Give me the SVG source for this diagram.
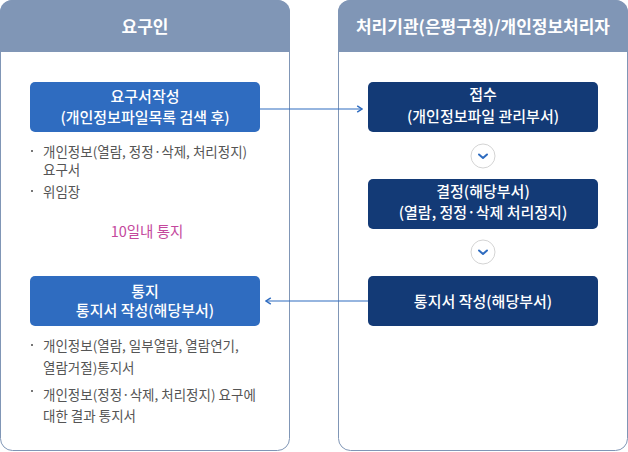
<svg xmlns="http://www.w3.org/2000/svg" width="628" height="452" viewBox="0 0 628 452">
<style>
text{font-family:"Noto Sans CJK KR","Noto Sans",sans-serif}
.panel{fill:#fff;stroke:#8096b6;stroke-width:1}
.head{fill:#8096b6}
.ht{fill:#fff;font-size:17px;font-weight:700;text-anchor:middle}
.bl{fill:#2f6cc0}
.dk{fill:#133a76}
.bt{fill:#fff;font-size:15px;font-weight:500;text-anchor:middle}
.li{fill:#555;font-size:13.5px}
.dot{fill:#777}
.con{stroke:#2f6cc0;stroke-width:1.2;fill:none}
.circ{fill:#fff;stroke:#d4d4d4;stroke-width:1}
.chev{stroke:#2f6cc0;stroke-width:2;fill:none;stroke-linecap:round;stroke-linejoin:round}
</style>
<defs>
<marker id="ah" viewBox="0 0 10 10" refX="9" refY="5" markerWidth="8" markerHeight="8" markerUnits="userSpaceOnUse" orient="auto-start-reverse">
<path d="M3,1 L9,5 L3,9" fill="none" stroke="#2f6cc0" stroke-width="1.8"/>
</marker>
</defs>
<g id="panel-left">
<rect class="panel" x="0.5" y="0.5" width="289" height="450" rx="12"/>
<path class="head" d="M0,52 V12 A12,12 0 0 1 12,0 H278 A12,12 0 0 1 290,12 V52 Z"/>
<text class="ht" x="145" y="33">요구인</text>
</g>
<g id="panel-right">
<rect class="panel" x="338.5" y="0.5" width="289" height="450" rx="12"/>
<path class="head" d="M338,52 V12 A12,12 0 0 1 350,0 H616 A12,12 0 0 1 628,12 V52 Z"/>
<text class="ht" x="483" y="33">처리기관(은평구청)/개인정보처리자</text>
</g>
<g id="node-request">
<rect class="bl" x="30" y="82" width="230" height="50" rx="5"/>
<text class="bt" x="145" y="102">요구서작성</text>
<text class="bt" x="145" y="123">(개인정보파일목록 검색 후)</text>
</g>
<g id="list-request">
<rect class="dot" x="31" y="150" width="2" height="2"/>
<text class="li" x="43" y="157">개인정보(열람, 정정·삭제, 처리정지)</text>
<text class="li" x="43" y="175">요구서</text>
<rect class="dot" x="31" y="190" width="2" height="2"/>
<text class="li" x="43" y="197">위임장</text>
</g>
<text id="label-10days" x="147" y="237" fill="#c4489d" font-size="14.5" text-anchor="middle">10일내 통지</text>
<g id="node-notify">
<rect class="bl" x="30" y="276" width="230" height="50" rx="5"/>
<text class="bt" x="145" y="297">통지</text>
<text class="bt" x="145" y="316">통지서 작성(해당부서)</text>
</g>
<g id="list-notify">
<rect class="dot" x="31" y="344" width="2" height="2"/>
<text class="li" x="43" y="351">개인정보(열람, 일부열람, 열람연기,</text>
<text class="li" x="43" y="373">열람거절)통지서</text>
<rect class="dot" x="31" y="390" width="2" height="2"/>
<text class="li" x="43" y="400">개인정보(정정·삭제, 처리정지) 요구에</text>
<text class="li" x="43" y="421">대한 결과 통지서</text>
</g>
<g id="node-receive">
<rect class="dk" x="368" y="82" width="230" height="50" rx="5"/>
<text class="bt" x="483" y="100">접수</text>
<text class="bt" x="483" y="122">(개인정보파일 관리부서)</text>
</g>
<g id="node-decide">
<rect class="dk" x="368" y="179" width="230" height="50" rx="5"/>
<text class="bt" x="483" y="197">결정(해당부서)</text>
<text class="bt" x="483" y="218">(열람, 정정·삭제 처리정지)</text>
</g>
<g id="node-write">
<rect class="dk" x="368" y="276" width="230" height="50" rx="5"/>
<text class="bt" x="483" y="307">통지서 작성(해당부서)</text>
</g>
<g id="connectors">
<line class="con" x1="260" y1="109" x2="362" y2="109" marker-end="url(#ah)"/>
<line class="con" x1="368" y1="301" x2="266" y2="301" marker-end="url(#ah)"/>
<circle class="circ" cx="483" cy="156" r="12"/>
<path class="chev" d="M479,154.5 L483,158 L487,154.5"/>
<circle class="circ" cx="483" cy="252" r="12"/>
<path class="chev" d="M479,250.5 L483,254 L487,250.5"/>
</g>
</svg>
